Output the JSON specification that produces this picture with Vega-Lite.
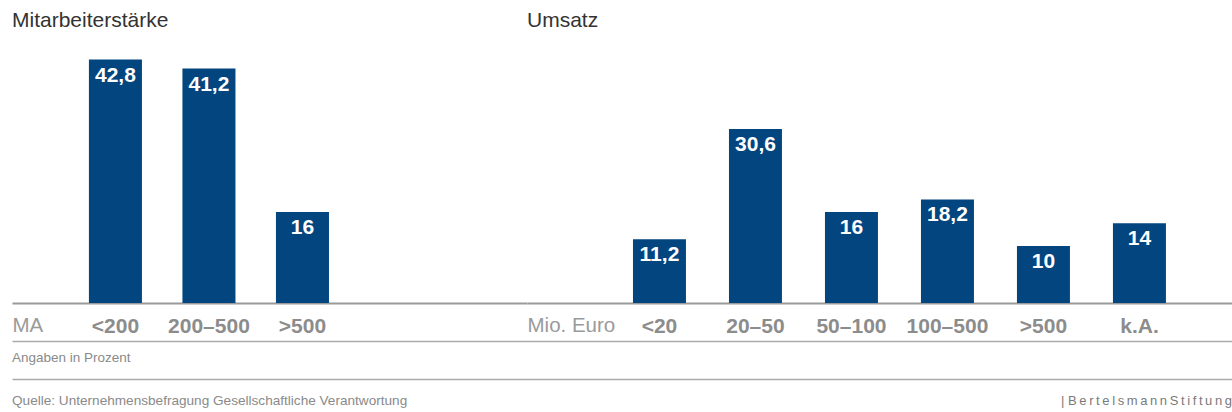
{
  "$schema": "https://vega.github.io/schema/vega-lite/v6.json",
  "padding": {"left": 12, "top": 10, "right": 0, "bottom": 0},
  "background": "white",
  "datasets": {
    "ma": [
      {"k": "<200", "v": 42.8},
      {"k": "200–500", "v": 41.2},
      {"k": ">500", "v": 16}
    ],
    "umsatz": [
      {"k": "<20", "v": 11.2},
      {"k": "20–50", "v": 30.6},
      {"k": "50–100", "v": 16},
      {"k": "100–500", "v": 18.2},
      {"k": ">500", "v": 10},
      {"k": "k.A.", "v": 14}
    ],
    "footer": [
      {"row": "note", "side": "left", "text": "Angaben in Prozent"},
      {"row": "source", "side": "left", "text": "Quelle: Unternehmensbefragung Gesellschaftliche Verantwortung"},
      {"row": "source", "side": "right", "text": "| B\u2009e\u2009r\u2009t\u2009e\u2009l\u2009s\u2009m\u2009a\u2009n\u2009n\u2009S\u2009t\u2009i\u2009f\u2009t\u2009u\u2009n\u2009g"}
    ]
  },
  "config": {
    "locale": {"number": {"decimal": ",", "thousands": ".", "grouping": [3], "currency": ["", "\u00a0€"]}},
    "view": {"stroke": null},
    "font": "Liberation Sans",
    "title": {"font": "Liberation Sans", "fontSize": 21, "fontWeight": "normal", "color": "#333333", "anchor": "start", "frame": "group", "offset": 16},
    "axisX": {
      "domainColor": "#9a9a9a", "domainWidth": 2, "ticks": false, "tickSize": 0, "grid": false,
      "labelFont": "Liberation Sans", "labelFontSize": 21, "labelFontWeight": "bold", "labelColor": "#8c8c8c",
      "labelPadding": 12, "labelAngle": 0,
      "titleFont": "Liberation Sans", "titleFontSize": 20.5, "titleFontWeight": "normal", "titleColor": "#9a9a9a",
      "titleAnchor": "start", "titleAlign": "left", "titleBaseline": "top", "titleX": 0, "titleY": 12
    }
  },
  "spacing": 5,
  "vconcat": [
    {
      "spacing": 0,
      "bounds": "flush",
      "hconcat": [
        {
          "width": 515,
          "height": 256,
          "title": {"text": "Mitarbeiterstärke"},
          "data": {"name": "ma"},
          "encoding": {
            "x": {"field": "k", "type": "nominal",
                  "scale": {"domain": ["<200", "200–500", ">500", " ", "  "], "paddingInner": 0.433, "paddingOuter": 0.47, "align": 0.875},
                  "axis": {"title": "MA"}},
            "y": {"field": "v", "type": "quantitative", "scale": {"domain": [0, 45], "nice": false}, "axis": null}
          },
          "layer": [
            {"mark": {"type": "bar", "color": "#03457f"}},
            {"mark": {"type": "text", "baseline": "top", "dy": 5, "color": "white", "fontWeight": "bold", "fontSize": 21, "font": "Liberation Sans"},
             "encoding": {"text": {"field": "v", "type": "quantitative", "format": ".1~f"}}}
          ]
        },
        {
          "width": 705,
          "height": 256,
          "title": {"text": "Umsatz"},
          "data": {"name": "umsatz"},
          "encoding": {
            "x": {"field": "k", "type": "nominal", "sort": null,
                  "scale": {"paddingInner": 0.448, "paddingOuter": 0.896, "align": 0.616},
                  "axis": {"title": "Mio. Euro"}},
            "y": {"field": "v", "type": "quantitative", "scale": {"domain": [0, 45], "nice": false}, "axis": null}
          },
          "layer": [
            {"mark": {"type": "bar", "color": "#03457f"}},
            {"mark": {"type": "text", "baseline": "top", "dy": 5, "color": "white", "fontWeight": "bold", "fontSize": 21, "font": "Liberation Sans"},
             "encoding": {"text": {"field": "v", "type": "quantitative", "format": ".1~f"}}}
          ]
        }
      ]
    },
    {
      "width": 1220,
      "height": 38,
      "data": {"name": "footer"},
      "encoding": {
        "x": {"field": "side", "type": "nominal", "scale": {"type": "point", "domain": ["left", "right"], "padding": 0}, "axis": null},
        "y": {"field": "row", "type": "nominal", "scale": {"type": "point", "domain": ["note", "source"], "padding": 0},
              "axis": {"grid": true, "labels": false, "ticks": false, "domain": false, "title": null, "gridColor": "#aaaaaa", "gridWidth": 1.5}},
        "text": {"field": "text"}
      },
      "layer": [
        {"transform": [{"filter": "datum.row == 'note'"}],
         "mark": {"type": "text", "align": "left", "baseline": "middle", "dy": 17, "fontSize": 13.5, "color": "#8a8a8a", "font": "Liberation Sans"}},
        {"transform": [{"filter": "datum.row == 'source' && datum.side == 'left'"}],
         "mark": {"type": "text", "align": "left", "baseline": "middle", "dy": 22, "fontSize": 13.6, "color": "#8a8a8a", "font": "Liberation Sans"}},
        {"transform": [{"filter": "datum.side == 'right'"}],
         "mark": {"type": "text", "align": "right", "baseline": "middle", "dy": 22, "fontSize": 13, "color": "#7a7a7a", "font": "Liberation Sans"}}
      ]
    }
  ]
}
